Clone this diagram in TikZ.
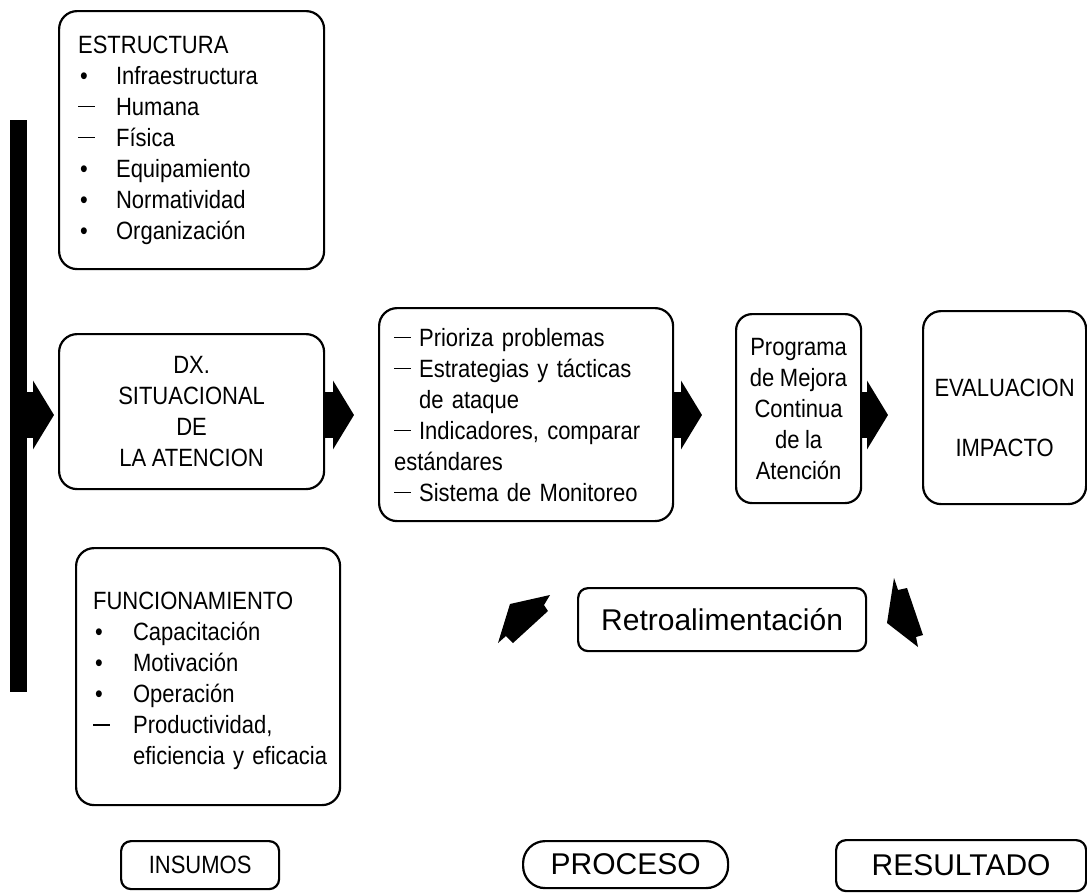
\documentclass[tikz,border=0pt]{standalone}
\usepackage{fontspec}
\setmainfont{Liberation Sans}
\newfontfamily\narrowfont[FakeStretch=0.88]{Liberation Sans}
\usetikzlibrary{arrows.meta}

\newcommand{\boxfont}[1][31]{\narrowfont\fontsize{25}{#1}\selectfont\spaceskip=5.5pt\relax}
\newcommand{\bul}[1][38pt]{\makebox[#1][l]{\hspace{2pt}\textbullet}}
\newcommand{\dsh}[1][38pt]{\makebox[#1][l]{\rule[8pt]{17pt}{1.4pt}}}

\begin{document}
\begin{tikzpicture}[x=1pt, y=-1pt]
				\tikzstyle{box} = [draw, line width=2.2pt, rounded corners=18pt, anchor=north west, inner sep=0pt, font=\boxfont]
				\tikzstyle{tag} = [box, rounded corners=10pt, font=\fontsize{30}{36}\selectfont]
				\tikzstyle{fat} = [line width=46pt, -{Triangle[length=21pt, width=68pt]}]
				
				\useasboundingbox (0,0) rectangle (1087,892);
				
				\node[fill=black, inner sep=0pt, minimum width=17pt, minimum height=572pt, anchor=north west] at (10,120) (bar) {};
				\coordinate (lvl) at (0,415);
				
				% insumos
				\node[box, text width=227pt, inner xsep=19pt, minimum height=258pt, align=left] at (58,10) (estr)
					{ESTRUCTURA\\ \bul Infraestructura\\ \dsh Humana\\ \dsh Física\\ \bul Equipamiento\\ \bul Normatividad\\ \bul Organización};
				\node[box, minimum width=265pt, minimum height=155pt, align=center] at (58,333) (dx)
					{DX.\\SITUACIONAL\\DE\\LA ATENCION};
				\node[box, text width=230pt, inner xsep=17pt, minimum height=257pt, align=left] at (75,547) (func)
					{\rule{0pt}{26pt}FUNCIONAMIENTO\\ \bul[40pt]Capacitación\\ \bul[40pt]Motivación\\ \bul[40pt]Operación\\ \dsh[40pt]Productividad,\\ \hspace*{40pt}\mbox{eficiencia y eficacia}};
				
				% proceso
				\node[box, text width=264pt, inner xsep=15pt, minimum height=213pt, align=left] at (378,307) (proc)
					{\dsh[25pt]Prioriza problemas\\ \dsh[25pt]Estrategias y tácticas\\ \hspace*{25pt}de ataque\\ \dsh[25pt]Indicadores, comparar\\ estándares\\ \dsh[25pt]Sistema de Monitoreo};
				\node[box, rounded corners=16pt, minimum width=125pt, minimum height=189pt, align=center] at (735,313) (prog)
					{Programa\\de Mejora\\Continua\\de la\\Atención};
				
				% resultado
				\node[box, minimum width=163pt, minimum height=193pt, align=center] at (922,310) (eval)
					{\rule{0pt}{38pt}EVALUACION\\[29pt]IMPACTO};
				
				\node[tag, minimum width=288pt, minimum height=63pt] at (577,587) (retro) {Retroalimentación};
				
				\node[box, rounded corners=10pt, minimum width=158pt, minimum height=48pt] at (120,840) (insumos) {INSUMOS};
				\node[tag, rounded corners=22pt, minimum width=205pt, minimum height=47pt] at (522,840) (proceso) {PROCESO};
				\node[tag, minimum width=250pt, minimum height=51pt] at (835,839) (resultado) {RESULTADO};
				
				\path[fat]
				(bar.east |- lvl)	edge [shorten >=4pt]	(dx.west |- lvl)
				(dx.east |- lvl)	edge [shorten >=24pt]	(proc.west |- lvl)
				(proc.east |- lvl)	edge [shorten >=33pt]	(prog.west |- lvl)
				(prog.east |- lvl)	edge [shorten >=34pt]	(eval.west |- lvl);
				
				% retroalimentacion
				\fill (498,643) -- (510,604) -- (550,595) -- (544,605) -- (548,611) -- (513,643) -- (506,636) -- cycle;
				\fill (894,578) -- (898,590) -- (907,588) -- (923,635) -- (916,637) -- (918,647) -- (887,623) -- cycle;
			\end{tikzpicture}
\end{document}
